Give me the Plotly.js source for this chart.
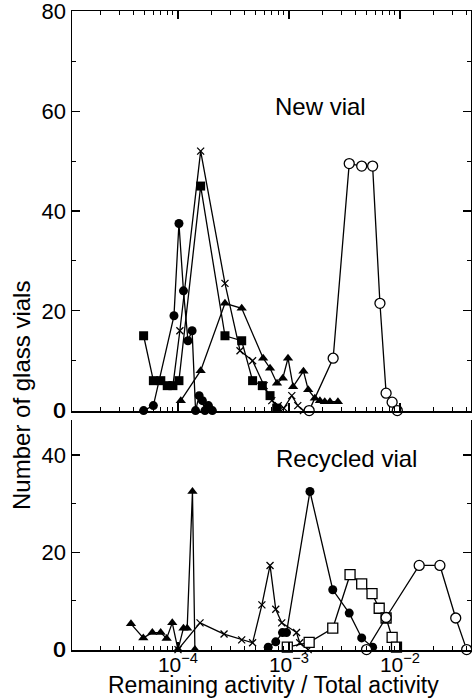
<!DOCTYPE html>
<html><head><meta charset="utf-8">
<script src="https://cdn.plot.ly/plotly-3.0.1.min.js"></script>
<style>html,body{margin:0;padding:0;background:#fff}#chart{width:472px;height:698px}</style>
</head><body><div id="chart"></div>
<script>
// ---------- New vial (top panel) ----------
const newDotX    = [4.9e-5, 6.0e-5, 9.2e-5, 1.02e-4, 1.12e-4, 1.23e-4, 1.34e-4, 1.44e-4, 1.55e-4, 1.66e-4, 1.75e-4, 1.88e-4, 2.04e-4];
const newDotY    = [0, 1, 19, 37.5, 24, 14, 16, 0, 3, 2, 0, 1, 0];
const newSquareX = [4.9e-5, 6.0e-5, 7.0e-5, 8.0e-5, 9.0e-5, 1.02e-4, 1.6e-4, 2.65e-4, 3.75e-4, 4.7e-4, 5.75e-4, 6.75e-4, 7.75e-4];
const newSquareY = [15, 6, 6, 5, 5, 6, 45, 15, 14, 6, 5, 3, 0.5];
const newCrossX  = [9.0e-5, 1.04e-4, 1.6e-4, 2.65e-4, 3.62e-4, 4.7e-4, 5.97e-4, 7.0e-4, 8.0e-4, 9.0e-4, 1.06e-3, 1.2e-3, 1.35e-3];
const newCrossY  = [5, 16, 52, 25.5, 12, 10, 5, 2, 1, 0.5, 3, 1, 0];
const newTriX    = [1.06e-4, 1.6e-4, 2.65e-4, 3.75e-4, 5.85e-4, 6.75e-4, 7.8e-4, 8.8e-4, 9.8e-4, 1.09e-3, 1.35e-3, 1.49e-3, 1.71e-3, 1.9e-3, 2.1e-3, 2.34e-3, 2.76e-3];
const newTriY    = [2, 8, 21.5, 20.5, 10.5, 8.5, 5.5, 6.5, 10.5, 4.8, 7.9, 4.2, 2.5, 2, 1.8, 1.8, 1.8];
const newOpenCircleX = [1.52e-3, 2.5e-3, 3.49e-3, 4.52e-3, 5.67e-3, 6.6e-3, 7.5e-3, 8.5e-3, 9.46e-3];
const newOpenCircleY = [0, 10.5, 49.5, 49, 49, 21.5, 3.5, 1.7, 0];

// ---------- Recycled vial (bottom panel) ----------
const recTriX    = [3.77e-5, 4.87e-5, 5.87e-5, 6.98e-5, 7.9e-5, 8.88e-5, 1.0e-4, 1.12e-4, 1.21e-4, 1.35e-4, 1.42e-4];
const recTriY    = [5.3, 2.4, 3.5, 3.5, 2.3, 5.5, 0, 4.4, 4.4, 32.5, 0];
const recCrossX  = [1.0e-4, 1.58e-4, 2.6e-4, 3.75e-4, 4.7e-4, 5.7e-4, 6.75e-4, 7.6e-4, 8.6e-4, 1.17e-3, 1.25e-3, 1.49e-3];
const recCrossY  = [0, 5.5, 3.2, 2, 1.4, 9.2, 17.3, 8.3, 5.5, 3.5, 1.4, 0];
const recDotX    = [6.5e-4, 7.6e-4, 8.74e-4, 9.5e-4, 1.545e-3, 2.48e-3, 3.49e-3, 4.52e-3, 5.67e-3];
const recDotY    = [0.5, 1.6, 3.5, 3.5, 32.5, 12.3, 7.5, 2.4, 0.5];
const recOpenSquareX = [9.66e-4, 1.52e-3, 2.48e-3, 3.55e-3, 4.52e-3, 5.6e-3, 6.5e-3, 7.5e-3, 8.5e-3, 9.3e-3];
const recOpenSquareY = [0.5, 1.5, 4.4, 15.4, 13.5, 11.5, 8.5, 6.5, 2.5, 0.5];
const recOpenCircleX = [5.0e-3, 7.5e-3, 1.49e-2, 2.29e-2, 3.18e-2, 3.99e-2];
const recOpenCircleY = [0, 6.6, 17.3, 17.3, 6.5, 0];

const xTickVals = [1e-4, 1e-3, 1e-2];
const xTickText = ['10<sup>−4</sup>', '10<sup>−3</sup>', '10<sup>−2</sup>'];
const zeroLabel = '0';
const panelLabels = ['New vial', 'Recycled vial'];
const xTitle = 'Remaining activity / Total activity';
const yTitle = 'Number of glass vials';

const FONT = 'Liberation Sans, Arial, Helvetica, sans-serif';
const LW = 1.3;

function tr(x, y, symbol, size, axes, fill) {
  const open = fill === 'white';
  const isX = symbol === 'x-thin';
  return {
    x: x, y: y, xaxis: axes[0], yaxis: axes[1], type: 'scatter', mode: 'lines+markers',
    cliponaxis: false,
    line: {color: 'black', width: LW},
    marker: {symbol: symbol, size: size, color: open ? 'white' : 'black',
             line: {color: 'black', width: isX ? 1.3 : (open ? 1.3 : 0)}},
    hoverinfo: 'x+y'
  };
}
const TOP = ['x2', 'y2'], BOT = ['x', 'y'];
const data = [
  tr(newSquareX, newSquareY, 'square', 9, TOP),
  tr(newDotX, newDotY, 'circle', 9, TOP),
  tr(newTriX, newTriY, 'triangle-up', 9, TOP),
  tr(newCrossX, newCrossY, 'x-thin', 7, TOP),
  tr(newOpenCircleX, newOpenCircleY, 'circle', 10, TOP, 'white'),
  tr(recTriX, recTriY, 'triangle-up', 9, BOT),
  tr(recCrossX, recCrossY, 'x-thin', 7, BOT),
  tr(recDotX, recDotY, 'circle', 9, BOT),
  tr(recOpenSquareX, recOpenSquareY, 'square', 10, BOT, 'white'),
  tr(recOpenCircleX, recOpenCircleY, 'circle', 10, BOT, 'white')
];

const XR = [-4.955, -1.36];
const common = {
  showgrid: false, zeroline: false, showline: true, linecolor: 'black', linewidth: 1.5,
  ticks: 'inside', ticklen: 8, tickwidth: 1.3, tickcolor: 'black', automargin: false
};
const yMinor = {ticks: 'inside', ticklen: 4, tickwidth: 1, tickcolor: 'black', dtick: 10, tick0: 0, showgrid: false};
const xMinor = {ticks: 'inside', ticklen: 4, tickwidth: 1, tickcolor: 'black', dtick: 'D1', showgrid: false};
const layout = {
  width: 472, height: 698,
  margin: {l: 72, r: 1, t: 11, b: 48, pad: 0},
  paper_bgcolor: 'white', plot_bgcolor: 'white',
  showlegend: false,
  font: {family: FONT, size: 22, color: 'black'},
  xaxis: Object.assign({}, common, {
    type: 'log', range: XR, anchor: 'y', mirror: false,
    tickmode: 'array', tickvals: xTickVals, ticktext: xTickText, tickfont: {size: 21},
    ticklabelstandoff: -5, minor: xMinor
  }),
  yaxis: Object.assign({}, common, {
    domain: [0, 0.36], range: [-0.08, 47.2], anchor: 'x', mirror: 'ticks',
    tickmode: 'linear', tick0: 0, dtick: 20, tickfont: {size: 22},
    ticklabeloverflow: 'allow', minor: yMinor
  }),
  xaxis2: Object.assign({}, common, {
    type: 'log', range: XR, anchor: 'y2', mirror: 'ticks', showticklabels: false,
    tickmode: 'array', tickvals: xTickVals, minor: xMinor
  }),
  yaxis2: Object.assign({}, common, {
    domain: [0.374, 1], range: [-0.08, 80.08], anchor: 'x2', mirror: 'ticks',
    tickmode: 'linear', tick0: 0, dtick: 20, tickfont: {size: 22},
    ticklabeloverflow: 'allow', minor: yMinor
  }),
  annotations: [
    {text: panelLabels[0], xref: 'paper', yref: 'paper', x: 0.624, y: 0.85, showarrow: false, font: {size: 24}, xanchor: 'center', yanchor: 'middle'},
    {text: panelLabels[1], xref: 'paper', yref: 'paper', x: 0.687, y: 0.299, showarrow: false, font: {size: 24}, xanchor: 'center', yanchor: 'middle'},
    {text: yTitle, xref: 'paper', yref: 'paper', x: -0.128, y: 0.399, textangle: -90, showarrow: false, font: {size: 24}, xanchor: 'center', yanchor: 'middle'},
    {text: xTitle, xref: 'paper', yref: 'paper', x: 0.504, y: -0.054, showarrow: false, font: {size: 23}, xanchor: 'center', yanchor: 'middle'},
    {text: zeroLabel, xref: 'paper', yref: 'y2', x: -0.013, y: 0, showarrow: false, font: {size: 22}, xanchor: 'right', yanchor: 'middle'},
    {text: zeroLabel, xref: 'paper', yref: 'y', x: -0.013, y: 0, showarrow: false, font: {size: 22}, xanchor: 'right', yanchor: 'middle'}
  ]
};
Plotly.newPlot('chart', data, layout, {displayModeBar: false, staticPlot: true});
</script>
</body></html>
